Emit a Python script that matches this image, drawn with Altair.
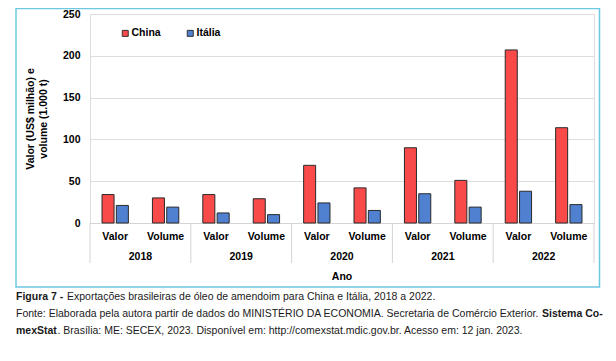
import altair as alt
import pandas as pd

years = ["2018", "2019", "2020", "2021", "2022"]
measures = ["Valor", "Volume"]
countries = ["China", "Itália"]
china = [34, 30, 34, 29, 69, 42, 90, 51, 207, 114]
italia = [21, 19, 12, 10, 24, 15, 35, 19, 38, 22]
colors = ["#F94A4A", "#4F81D0"]
y_ticks = [0, 50, 100, 150, 200, 250]
y_title = ["Valor (US$ milhão) e", "volume (1.000 t)"]
x_title = "Ano"
caption = [
    [("Figura 7 -", True), ("Exportações brasileiras de óleo de amendoim para China e Itália, 2018 a 2022.", False)],
    [("Fonte: Elaborada pela autora partir de dados do MINISTÉRIO DA ECONOMIA. Secretaria de Comércio Exterior.", False), ("Sistema Co-", True)],
    [("mexStat", True), (". Brasília: ME: SECEX, 2023. Disponível em: http://comexstat.mdic.gov.br. Acesso em: 12 jan. 2023.", False)],
]

cats = [f"{y} {m}" for y in years for m in measures]
rows = []
for i, c in enumerate(cats):
    y, m = c.split(" ")
    rows.append({"cat": c, "year": y, "measure": m, "country": "China", "value": china[i]})
    rows.append({"cat": c, "year": y, "measure": m, "country": "Itália", "value": italia[i]})
df = pd.DataFrame(rows)
lab_df = pd.DataFrame({"cat": cats, "measure": [c.split(" ")[1] for c in cats]})
year_df = pd.DataFrame({"cat": [f"{y} Valor" for y in years], "year": years})

W, H = 504, 209
FONT = "Liberation Sans"
xscale = alt.Scale(domain=cats, paddingInner=0, paddingOuter=0)

bars = alt.Chart(df).mark_bar(stroke="#2a2a2a", strokeWidth=1).encode(
    x=alt.X("cat:N", scale=xscale, axis=alt.Axis(labels=False, ticks=False, title=None,
                                                  domainColor="#d4d4d4")),
    xOffset=alt.XOffset("country:N", scale=alt.Scale(domain=countries, paddingInner=0.16, paddingOuter=0.84)),
    y=alt.Y("value:Q", scale=alt.Scale(domain=[0, 250]),
            axis=alt.Axis(values=y_ticks, title=y_title, domain=False, ticks=False,
                          labelPadding=10, gridColor="#dedede", labelFontWeight="bold",
                          labelFontSize=10.5, labelFont=FONT, labelColor="#000",
                          titleFont=FONT, titleFontSize=10.5, titleFontWeight="bold",
                          titleColor="#000", titlePadding=14, titleLineHeight=13)),
    color=alt.Color("country:N", scale=alt.Scale(domain=countries, range=colors),
                    legend=alt.Legend(title=None, orient="none", direction="horizontal",
                                      legendX=30, legendY=14, symbolType="square",
                                      symbolSize=36, symbolStrokeColor="#333",
                                      symbolStrokeWidth=1, labelFont=FONT,
                                      labelFontSize=10.5, labelFontWeight="bold",
                                      labelColor="#000", columnPadding=24, labelOffset=1)),
)

meas_text = alt.Chart(lab_df).mark_text(font=FONT, fontSize=10.5, fontWeight="bold",
                                        color="#000", baseline="middle").encode(
    x=alt.X("cat:N", scale=xscale), y=alt.value(H + 14), text="measure:N")

year_text = alt.Chart(year_df).mark_text(font=FONT, fontSize=10.5, fontWeight="bold",
                                         color="#000", baseline="middle").encode(
    x=alt.X("cat:N", scale=xscale, bandPosition=1), y=alt.value(H + 34), text="year:N")

seps = alt.Chart(year_df).mark_rule(color="#d4d4d4", strokeWidth=1).encode(
    x=alt.X("cat:N", scale=xscale, bandPosition=0), y=alt.value(H), y2=alt.value(H + 40))
sep_end = alt.Chart(pd.DataFrame({"cat": [cats[-1]]})).mark_rule(color="#d4d4d4", strokeWidth=1).encode(
    x=alt.X("cat:N", scale=xscale, bandPosition=1), y=alt.value(H), y2=alt.value(H + 40))

ano = alt.Chart(pd.DataFrame({"t": [x_title]})).mark_text(
    font=FONT, fontSize=10.5, fontWeight="bold", color="#000", baseline="middle").encode(
    x=alt.value(W / 2), y=alt.value(H + 54), text="t:N")

frame = alt.Chart(pd.DataFrame({"a": [0]})).mark_rect(
    fill=None, stroke="#6DC8E4", strokeWidth=1.5).encode(
    x=alt.value(-74), x2=alt.value(509.5), y=alt.value(-5.5), y2=alt.value(273))

cap_layers = []
line_y = [283, 300, 317]
seg_x = [[-74, -23], [-74, 452], [-74, -32.5]]
for li, line in enumerate(caption):
    for si, (txt, bold) in enumerate(line):
        cap_layers.append(
            alt.Chart(pd.DataFrame({"t": [txt]})).mark_text(
                font=FONT, fontSize=10.5, fontWeight="bold" if bold else "normal",
                color="#1a1a1a", align="left", baseline="middle").encode(
                x=alt.value(seg_x[li][si]), y=alt.value(line_y[li]), text="t:N"))

chart = alt.layer(frame, bars, seps, sep_end, meas_text, year_text, ano, *cap_layers).properties(
    width=W, height=H, autosize=alt.AutoSizeParams(type="none"),
    padding={"left": 82, "top": 6, "right": 14, "bottom": 130},
).configure_view(stroke=None).configure(background="white")

chart.save("out.html", embed_options={"renderer": "svg", "actions": False})
